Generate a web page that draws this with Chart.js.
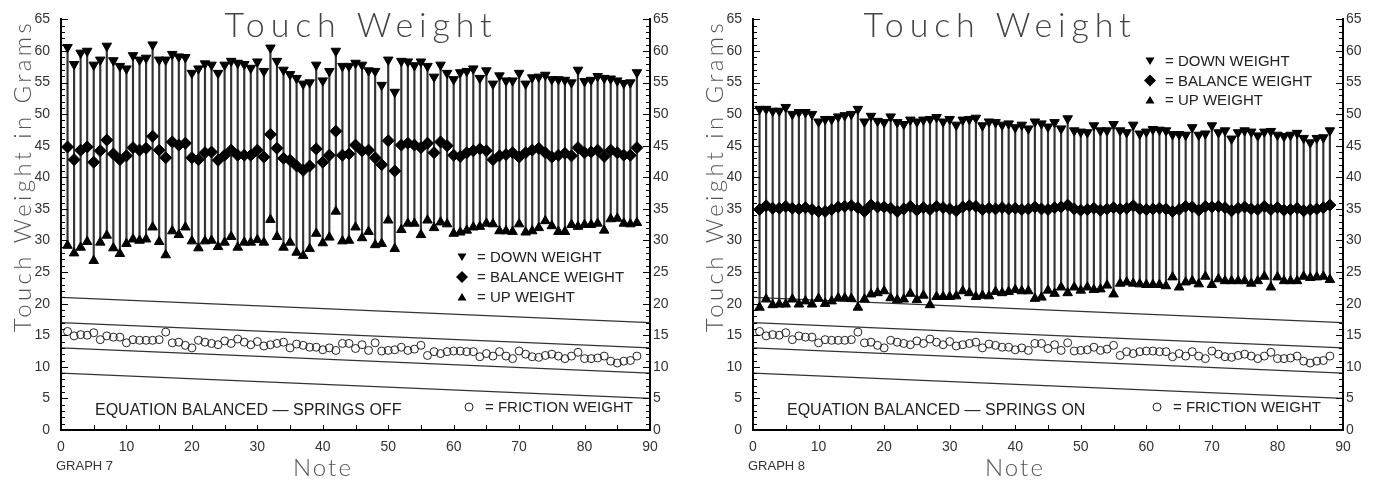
<!DOCTYPE html>
<html>
<head>
<meta charset="utf-8">
<script src="https://cdn.jsdelivr.net/npm/chart.js@4.4.0/dist/chart.umd.min.js"></script>
<style>
  html, body { margin: 0; padding: 0; background: #fff; }
  #wrap { display: flex; width: 1385px; height: 481px; }
  canvas { display: block; }
</style>
</head>
<body>
<div id="wrap">
  <canvas id="graph7" width="692" height="481"></canvas>
  <canvas id="graph8" width="693" height="481"></canvas>
</div>
<script>
// notes 1..88 of the keyboard
const notes = Array.from({ length: 88 }, (_, i) => i + 1)

// reference lines, value at note 0 and at note 90
const refSpan = [0, 90]
const refStart = [21, 17, 13, 9]
const refEnd = [17, 13, 9, 5]

// friction weight is the same in both graphs
const friction = [
  15.6, 14.9, 15.1, 15.0, 15.4, 14.3, 14.9, 14.7, 14.7, 13.8, 14.3, 14.2, 14.2, 14.2, 14.3, 15.5,
  13.8, 13.9, 13.4, 13.0, 14.2, 13.9, 13.7, 13.5, 14.1, 13.7, 14.4, 13.9, 13.5, 14.0, 13.3, 13.5,
  13.7, 13.9, 13.0, 13.6, 13.4, 13.1, 13.1, 12.7, 13.0, 12.6, 13.7, 13.7, 12.9, 13.5, 12.6, 13.8,
  12.5, 12.6, 12.7, 13.1, 12.6, 12.8, 13.4, 11.8, 12.4, 12.1, 12.4, 12.5, 12.5, 12.4, 12.4, 11.6,
  12.1, 11.7, 12.4, 11.7, 11.3, 12.5, 12.0, 11.6, 11.5, 11.8, 12.0, 11.7, 11.3, 11.7, 12.3, 11.3,
  11.3, 11.4, 11.7, 10.9, 10.6, 10.9, 11.0, 11.7
]

// graph 7 - springs off
const down7 = [
  60.6, 57.9, 59.7, 60.0, 57.8, 58.6, 60.8, 58.5, 57.6, 57.2, 59.3, 58.6, 58.9, 61.0, 58.6, 58.6,
  59.5, 59.1, 59.0, 56.5, 57.2, 58.0, 57.8, 56.5, 57.8, 58.4, 58.1, 57.9, 57.3, 58.3, 56.8, 60.5,
  58.4, 57.0, 56.3, 55.7, 54.8, 55.0, 57.8, 55.3, 56.8, 60.0, 57.6, 57.6, 58.1, 57.8, 56.9, 56.8,
  54.6, 58.6, 53.5, 58.4, 58.3, 57.7, 58.3, 57.6, 55.9, 57.8, 56.5, 55.5, 56.6, 56.8, 57.2, 55.7,
  56.9, 54.8, 56.1, 55.3, 55.3, 56.5, 54.8, 55.8, 55.9, 56.2, 55.5, 55.5, 55.4, 55.0, 57.0, 55.2,
  55.4, 56.0, 55.7, 55.6, 55.3, 54.9, 55.0, 56.6
]
const balance7 = [
  44.8, 42.8, 44.3, 44.8, 42.4, 44.2, 45.9, 43.7, 42.8, 43.4, 44.7, 44.3, 44.6, 46.5, 44.3, 43.1,
  45.6, 45.1, 45.4, 43.1, 42.8, 43.9, 44.0, 42.7, 43.5, 44.3, 43.5, 43.5, 43.5, 44.3, 43.2, 46.8,
  44.6, 43.0, 42.7, 41.8, 41.1, 41.8, 44.5, 42.4, 43.5, 47.3, 43.5, 43.7, 45.1, 44.2, 44.3, 43.1,
  42.0, 45.8, 41.0, 45.1, 45.4, 45.1, 44.7, 45.4, 43.9, 45.6, 45.0, 43.5, 43.3, 43.9, 44.2, 44.5,
  44.2, 42.8, 43.4, 43.6, 43.9, 43.2, 43.9, 44.3, 44.6, 43.9, 43.2, 43.5, 43.8, 43.4, 44.7, 43.9,
  44.0, 44.3, 43.3, 44.3, 43.9, 43.5, 43.5, 44.7
]
const up7 = [
  29.2, 28.0, 28.9, 29.8, 26.8, 29.7, 30.8, 28.8, 27.9, 29.5, 30.2, 30.0, 30.2, 32.1, 29.8, 27.7,
  31.5, 30.9, 32.1, 29.9, 28.8, 29.9, 30.0, 29.0, 29.7, 30.6, 28.9, 29.7, 29.7, 30.1, 29.7, 33.3,
  30.6, 28.9, 29.7, 28.1, 27.6, 28.7, 31.1, 29.6, 30.5, 34.6, 29.9, 30.0, 32.1, 30.4, 31.4, 29.3,
  29.5, 33.2, 28.7, 31.7, 32.7, 32.7, 30.9, 33.2, 32.0, 32.9, 32.6, 31.1, 31.3, 31.6, 32.1, 32.2,
  32.7, 32.6, 31.5, 31.5, 31.4, 32.6, 31.3, 31.5, 32.0, 33.1, 32.3, 31.4, 31.4, 32.5, 32.2, 32.5,
  32.5, 32.7, 31.6, 33.4, 33.5, 32.7, 32.6, 32.8
]

// graph 8 - springs on
const down8 = [
  50.8, 50.8, 50.5, 50.5, 51.1, 50.0, 50.3, 50.3, 50.0, 48.8, 49.2, 49.2, 49.6, 49.8, 50.0, 50.8,
  48.8, 49.7, 48.9, 48.7, 49.6, 48.7, 48.4, 49.1, 48.8, 49.1, 49.2, 49.5, 48.8, 49.2, 48.3, 49.1,
  49.2, 49.4, 48.2, 48.8, 48.7, 48.3, 48.5, 47.9, 48.3, 47.7, 48.8, 48.5, 48.0, 48.7, 47.7, 49.3,
  47.4, 47.2, 47.1, 48.2, 47.4, 47.4, 48.4, 47.4, 47.1, 48.3, 46.9, 47.2, 47.6, 47.5, 47.4, 46.8,
  46.8, 46.7, 47.9, 46.7, 46.9, 48.2, 47.1, 47.4, 46.1, 47.1, 47.4, 47.2, 46.6, 47.2, 47.3, 46.7,
  46.5, 46.7, 47.0, 46.2, 45.5, 46.2, 46.3, 47.4
]
const balance8 = [
  34.9, 35.5, 35.1, 35.1, 35.4, 35.1, 35.0, 35.2, 34.9, 34.6, 34.6, 34.9, 35.3, 35.4, 35.5, 35.2,
  34.6, 35.6, 35.3, 35.3, 35.1, 34.6, 35.0, 35.4, 34.8, 35.2, 34.9, 35.4, 35.2, 35.0, 34.7, 35.3,
  35.5, 35.4, 34.9, 35.1, 35.0, 35.2, 35.0, 35.1, 34.9, 35.0, 35.3, 35.0, 34.9, 35.2, 35.3, 35.6,
  35.0, 34.8, 34.9, 35.1, 34.8, 35.0, 35.2, 35.0, 35.1, 35.5, 35.0, 34.9, 35.0, 35.1, 35.0, 34.6,
  34.9, 35.4, 35.3, 34.8, 35.4, 35.3, 35.4, 35.2, 34.7, 35.1, 35.3, 35.0, 34.9, 35.4, 34.9, 35.2,
  34.8, 34.9, 35.1, 34.7, 34.9, 35.0, 35.2, 35.6
]
const up8 = [
  19.4, 20.7, 19.8, 19.9, 19.9, 20.7, 19.9, 20.4, 19.9, 20.8, 20.0, 20.4, 20.9, 20.9, 20.8, 19.4,
  20.7, 21.5, 21.7, 22.0, 20.9, 20.6, 20.7, 21.6, 20.6, 21.3, 19.8, 21.1, 21.1, 21.1, 21.2, 22.0,
  21.7, 21.1, 21.3, 21.2, 21.9, 21.7, 21.9, 22.2, 22.0, 22.0, 20.8, 21.0, 22.1, 21.6, 22.6, 21.7,
  22.6, 22.1, 22.6, 22.2, 22.3, 22.9, 21.5, 23.2, 23.4, 23.2, 23.1, 23.0, 23.0, 23.0, 22.8, 24.2,
  22.6, 23.4, 23.6, 23.1, 24.3, 23.0, 23.9, 23.6, 23.6, 23.6, 23.6, 23.2, 23.6, 24.3, 22.6, 24.2,
  23.6, 23.6, 23.6, 24.3, 24.1, 24.2, 24.3, 23.8
]

const xTicks = { min: 0, max: 90, step: 10 }
const yTicks = { min: 0, max: 65, step: 5 }

const tickFont = { family: 'Liberation Sans', size: 14 }

// text with letters spread so it covers a given width
function spaced(ctx, text, cx, cy, width) {
  ctx.letterSpacing = '0px'
  const w0 = ctx.measureText(text).width
  ctx.letterSpacing = ((width - w0) / text.length) + 'px'
  ctx.textAlign = 'left'
  ctx.fillText(text, cx - width / 2, cy)
  ctx.letterSpacing = '0px'
}

function symbol(ctx, kind, x, y) {
  ctx.beginPath()
  if (kind === 'down') {
    ctx.moveTo(x - 4.5, y - 3.5); ctx.lineTo(x + 4.5, y - 3.5); ctx.lineTo(x, y + 4)
  } else if (kind === 'up') {
    ctx.moveTo(x - 4.5, y + 3.5); ctx.lineTo(x + 4.5, y + 3.5); ctx.lineTo(x, y - 4)
  } else {
    ctx.moveTo(x, y - 6); ctx.lineTo(x + 6, y); ctx.lineTo(x, y + 6); ctx.lineTo(x - 6, y)
  }
  ctx.closePath()
  ctx.fill()
}

const decor = {
  id: 'decor',
  afterDatasetsDraw(chart, args, o) {
    const { ctx, chartArea: a, scales: { x, y } } = chart
    ctx.save()

    // inward tick marks
    ctx.strokeStyle = '#000'
    ctx.lineWidth = 1
    for (let v = yTicks.min; v <= yTicks.max; v++) {
      const py = Math.round(y.getPixelForValue(v)) + 0.5
      const len = v % yTicks.step === 0 ? 7 : 4
      ctx.beginPath()
      ctx.moveTo(a.left, py); ctx.lineTo(a.left + len, py)
      ctx.moveTo(a.right, py); ctx.lineTo(a.right - len, py)
      ctx.stroke()
    }
    for (let v = xTicks.min + 5; v < xTicks.max; v += 5) {
      const px = Math.round(x.getPixelForValue(v)) + 0.5
      ctx.beginPath()
      ctx.moveTo(px, a.bottom); ctx.lineTo(px, a.bottom - 5)
      ctx.stroke()
    }

    // marker legend
    ctx.fillStyle = '#000'
    ctx.font = '15px "Liberation Sans"'
    ctx.textBaseline = 'middle'
    ctx.textAlign = 'left'
    const kinds = ['down', 'balance', 'up']
    const names = ['= DOWN WEIGHT', '= BALANCE WEIGHT', '= UP WEIGHT']
    kinds.forEach((k, i) => {
      const ly = o.legendY + i * o.legendGap
      symbol(ctx, k, o.legendX, ly)
      ctx.fillStyle = '#222'
      ctx.fillText(names[i], o.legendX + 15, ly + 1)
      ctx.fillStyle = '#000'
    })

    // friction legend
    ctx.strokeStyle = '#222'
    ctx.beginPath()
    ctx.arc(o.legendX + 7, 407, 4, 0, Math.PI * 2)
    ctx.stroke()
    ctx.fillStyle = '#222'
    ctx.fillText('= FRICTION WEIGHT', o.legendX + 23, 408)

    ctx.font = '16px "Liberation Sans"'
    ctx.fillText(o.note, 95, 411)

    // title
    ctx.fillStyle = '#444'
    ctx.textBaseline = 'alphabetic'
    ctx.font = '300 34px Lato'
    spaced(ctx, 'Touch Weight', o.titleX, 37, 273)

    // axis titles
    ctx.font = '300 24px Lato'
    ctx.fillStyle = '#555'
    spaced(ctx, 'Note', o.noteX, 476, 60)
    ctx.save()
    ctx.translate(31, 176)
    ctx.rotate(-Math.PI / 2)
    spaced(ctx, 'Touch Weight in Grams', 0, 0, 312)
    ctx.restore()

    ctx.font = '13px "Liberation Sans"'
    ctx.fillStyle = '#333'
    ctx.textAlign = 'left'
    ctx.textBaseline = 'middle'
    ctx.fillText(o.graph, 56, 466)

    ctx.restore()
  }
}

function buildChart(id, down, balance, up, opts) {
  const el = document.getElementById(id)
  const pts = arr => notes.map((n, i) => ({ x: n, y: arr[i] }))

  const refLines = refStart.map((s, i) => ({
    type: 'line',
    data: [{ x: refSpan[0], y: s }, { x: refSpan[1], y: refEnd[i] }],
    borderColor: '#333',
    borderWidth: 1.3,
    pointRadius: 0,
    showLine: true,
    order: 5
  }))

  return new Chart(el, {
    type: 'scatter',
    data: {
      datasets: [
        ...refLines,
        {
          type: 'bar',
          data: notes.map((n, i) => ({ x: n, y: [up[i], down[i]] })),
          backgroundColor: '#333',
          barThickness: 1.5,
          order: 4
        },
        {
          data: pts(down),
          pointStyle: 'triangle',
          pointRotation: 180,
          pointRadius: 5.5,
          pointBackgroundColor: '#000',
          pointBorderColor: '#000',
          pointBorderWidth: 1,
          order: 1
        },
        {
          data: pts(balance),
          pointStyle: 'rectRot',
          pointRadius: 6,
          pointBackgroundColor: '#000',
          pointBorderColor: '#000',
          pointBorderWidth: 1,
          order: 1
        },
        {
          data: pts(up),
          pointStyle: 'triangle',
          pointRadius: 5.5,
          pointBackgroundColor: '#000',
          pointBorderColor: '#000',
          pointBorderWidth: 1,
          order: 1
        },
        {
          data: pts(friction),
          pointStyle: 'circle',
          pointRadius: 4,
          pointBackgroundColor: 'rgba(0,0,0,0)',
          pointBorderColor: '#222',
          pointBorderWidth: 1,
          order: 1
        }
      ]
    },
    options: {
      responsive: false,
      animation: false,
      events: [],
      layout: { padding: { top: 17, left: 0, right: 0, bottom: 0 } },
      plugins: {
        legend: { display: false },
        tooltip: { enabled: false },
        decor: opts
      },
      scales: {
        x: {
          type: 'linear',
          min: xTicks.min,
          max: xTicks.max,
          offset: false,
          ticks: { stepSize: xTicks.step, padding: 9, color: '#333', font: tickFont },
          grid: { display: false, drawTicks: false },
          border: { display: true, color: '#000', width: 2 },
          afterFit: s => { s.height = 51 }
        },
        y: {
          position: 'left',
          min: yTicks.min,
          max: yTicks.max,
          ticks: { stepSize: yTicks.step, padding: 11, color: '#333', font: tickFont },
          grid: { display: false, drawTicks: false },
          border: { display: true, color: '#000', width: 2 },
          afterFit: s => { s.width = 61 }
        },
        y2: {
          position: 'right',
          min: yTicks.min,
          max: yTicks.max,
          ticks: { stepSize: yTicks.step, padding: 3, color: '#333', font: tickFont },
          grid: { display: false, drawTicks: false },
          border: { display: true, color: '#000', width: 2 },
          afterFit: s => { s.width = 42 }
        }
      }
    },
    plugins: [decor]
  })
}

buildChart('graph7', down7, balance7, up7, {
  legendX: 462, legendY: 257, legendGap: 20,
  note: 'EQUATION BALANCED \u2014 SPRINGS OFF',
  titleX: 361, noteX: 323, graph: 'GRAPH 7'
})
buildChart('graph8', down8, balance8, up8, {
  legendX: 458, legendY: 61, legendGap: 19.5,
  note: 'EQUATION BALANCED \u2014 SPRINGS ON',
  titleX: 308, noteX: 323, graph: 'GRAPH 8'
})
</script>
</body>
</html>
